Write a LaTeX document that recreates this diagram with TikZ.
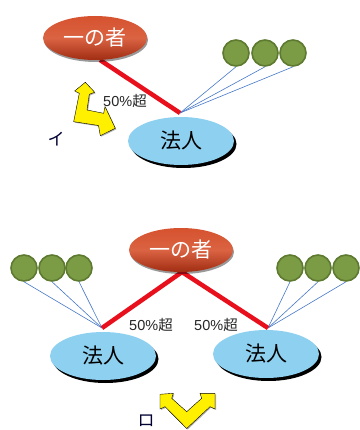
\documentclass[tikz,border=0pt]{standalone}
\usepackage{fontspec}
\newfontfamily\jp{Noto Sans CJK JP}
\newfontfamily\lat{Liberation Sans}
\usetikzlibrary{shapes.geometric,shadows}
\definecolor{redA}{RGB}{214,82,46}
\definecolor{redB}{RGB}{160,44,18}
\definecolor{lineRed}{RGB}{232,16,28}
\definecolor{blueFill}{RGB}{142,208,240}
\definecolor{greenFill}{RGB}{123,156,69}
\definecolor{greenEdge}{RGB}{94,122,48}
\definecolor{blueLine}{RGB}{70,120,200}
\definecolor{yel}{RGB}{255,240,0}
\tikzset{
  x=1pt,y=1pt,
  owner/.style={ellipse,inner sep=0pt,minimum width=104pt,minimum height=44pt,
    top color=redA,bottom color=redB,middle color=redA!90!white,draw=none,
    drop shadow={shadow xshift=1pt,shadow yshift=-2pt,opacity=0.4,fill=black},
    font=\jp\fontsize{21}{21}\selectfont,text=white},
  corp/.style={ellipse,inner sep=0pt,minimum width=106pt,minimum height=48pt,
    fill=blueFill,draw=none,
    drop shadow={shadow xshift=2.5pt,shadow yshift=-3pt,opacity=1,fill=black},
    font=\jp\fontsize{21}{21}\selectfont,text=black},
  share/.style={circle,inner sep=0pt,minimum size=26pt,fill=greenFill,draw=greenEdge,line width=1.6pt},
  redline/.style={draw=lineRed,line width=4.5pt},
  blueline/.style={draw=blueLine,line width=0.6pt},
  pct/.style={font=\lat\fontsize{14.5}{15}\selectfont,text=black!85,inner sep=0pt},
  kana/.style={font=\jp\fontsize{17}{17}\selectfont,text=black!80!blue,inner sep=0pt},
  yarrow/.style={fill=yel,draw=black,line width=0.4pt,line join=miter,
    drop shadow={shadow xshift=1pt,shadow yshift=-1pt,opacity=0.3,fill=black}}
}
\begin{document}
\begin{tikzpicture}
\useasboundingbox (0,0) rectangle (359,-430);
% ---------- top (イ) ----------
\coordinate (tj) at (180,-113);
\node[share] (g1) at (236,-53) {};
\node[share] (g2) at (265,-53) {};
\node[share] (g3) at (293,-53) {};
\draw[blueline] (tj) -- (g1.south);
\draw[blueline] (tj) -- (g2.south);
\draw[blueline] (tj) -- (g3.south);
\coordinate (ts) at (100,-60);
\draw[redline] (ts) -- (tj);
\node[owner] (o1) at (95,-38) {一の者};
\node[corp] (c1) at (181,-141) {法人};
\node[pct] (p1) at (125,-101) {50\%{\jp 超}};
\node[kana] (k1) at (56,-139) {イ};
\path[yarrow] (85.3,-82.3) -- (94.7,-92.3) -- (89.3,-94.3) -- (87,-110) -- (103.7,-113.3)
  -- (105,-106.5) -- (115.3,-128.3) -- (100.3,-135.7) -- (98.5,-125.5) -- (73.7,-121.7)
  -- (79.3,-93.3) -- (74.7,-91) -- cycle;
% ---------- bottom (ロ) ----------
\coordinate (bs) at (182,-272);
\coordinate (lj) at (102,-328);
\coordinate (rj) at (268,-328);
\node[share] (l1) at (24,-268) {};
\node[share] (l2) at (52,-268) {};
\node[share] (l3) at (79,-268) {};
\node[share] (r1) at (290,-268) {};
\node[share] (r2) at (318,-268) {};
\node[share] (r3) at (346,-268) {};
\draw[blueline] (lj) -- (l1.south);
\draw[blueline] (lj) -- (l2.south);
\draw[blueline] (lj) -- (l3.south);
\draw[blueline] (rj) -- (r1.south);
\draw[blueline] (rj) -- (r2.south);
\draw[blueline] (rj) -- (r3.south);
\draw[redline,line join=miter] (lj) -- (bs) -- (rj);
\node[owner] (o2) at (181,-250) {一の者};
\node[corp] (c2) at (103,-356) {法人};
\node[corp] (c3) at (266,-354) {法人};
\node[pct] (p2) at (151,-325) {50\%{\jp 超}};
\node[pct] (p3) at (216,-325) {50\%{\jp 超}};
\node[kana] (k2) at (146,-421) {ロ};
\path[yarrow] (160,-394.3) -- (173.3,-393.3) -- (171.7,-398.3) -- (186.7,-411.7) -- (201.7,-398.3)
  -- (200,-393.3) -- (215,-393.3) -- (215,-409) -- (210,-406.7) -- (186.7,-428.5)
  -- (165,-406.7) -- (160,-409) -- cycle;
\end{tikzpicture}
\end{document}
